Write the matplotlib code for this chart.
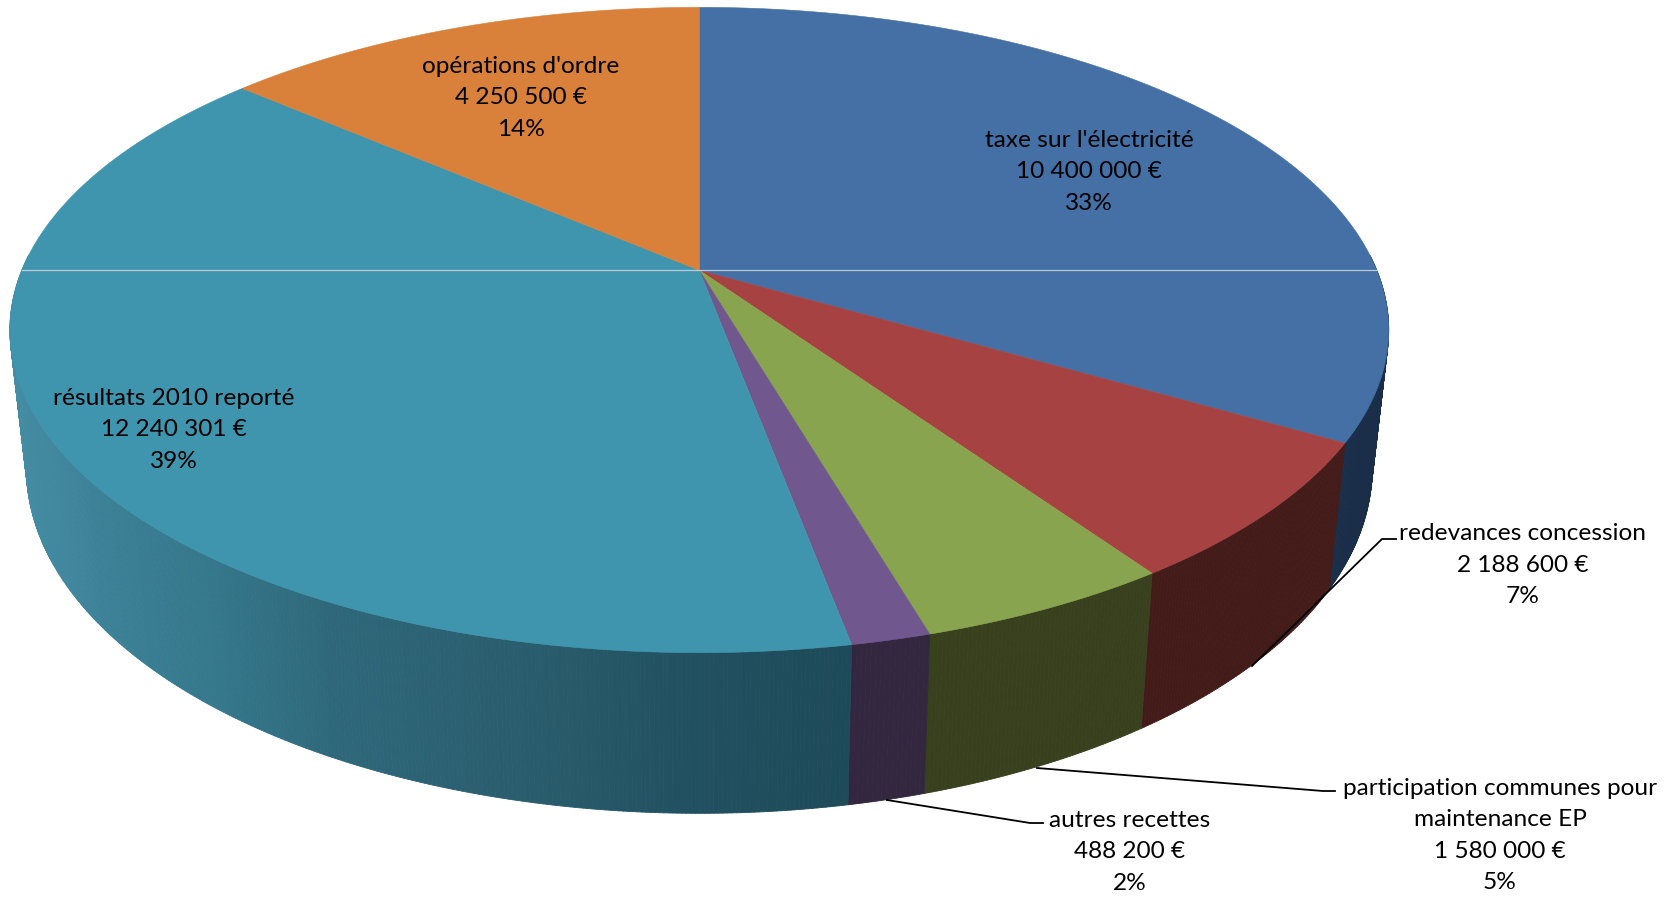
import numpy as np
import matplotlib
matplotlib.use("Agg")
import matplotlib.pyplot as plt
from matplotlib.collections import PolyCollection
from matplotlib.colors import to_rgb

names = ["taxe sur l'électricité", "redevances concession",
         "participation communes pour\nmaintenance EP", "autres recettes",
         "résultats 2010 reporté", "opérations d'ordre"]
values = [10400000, 2188600, 1580000, 488200, 12240301, 4250500]
top_colors = ["#4470a5", "#a64342", "#89a44e", "#70578e", "#4095ae", "#d9803a"]
side_colors = ["#1a2e4a", "#431b19", "#38401e", "#33263f", None, "#8a4f22"]
label_pos = [(1089, 172), (1522.5, 565), (1500, 835.5), (1129.5, 852), (174, 430), (521, 98)]

W, H = 1681, 897
CX, CY, A, K = 699.3, 270.3, 677.5, 0.185
B = 311.6
SX, SY, DY = 0.976, 1.07, 115

def top(theta):
    u, v = np.sin(theta), np.cos(theta)
    w = 1 + K * v
    return CX + A * u / w, CY - B * v / w

def bottom(theta):
    x, y = top(theta)
    return CX + SX * (x - CX), SY * y + DY

teal_x = [20, 100, 220, 330, 540, 700, 860]
teal_c = ["#458da4", "#3c8197", "#35778b", "#2f687b", "#295c6c", "#215060", "#1e4a58"]
teal_rgb = np.array([to_rgb(c) for c in teal_c])

def side_color(i, x):
    if side_colors[i] is not None:
        return to_rgb(side_colors[i])
    return tuple(np.interp(x, teal_x, teal_rgb[:, j]) for j in range(3))

fig = plt.figure(figsize=(W / 100, H / 100), dpi=100)
ax = fig.add_axes([0, 0, 1, 1])
ax.set_xlim(0, W)
ax.set_ylim(H, 0)
ax.axis("off")

total = sum(values)
edges = 2 * np.pi * np.cumsum([0] + values) / total

# side wall, drawn back to front
quads, cols = [], []
for i in range(len(values)):
    t = np.linspace(edges[i], edges[i + 1], max(3, int((edges[i + 1] - edges[i]) * 180)))
    for a, b in zip(t[:-1], t[1:]):
        m = (a + b) / 2
        if np.cos(m) > 0.05:
            continue
        xa, ya = top(a); xb, yb = top(b)
        xc, yc = bottom(b); xd, yd = bottom(a)
        quads.append([(xa, ya), (xb, yb), (xc, yc), (xd, yd)])
        cols.append((np.cos(m), side_color(i, (xa + xb + xc + xd) / 4)))
order = np.argsort([-c[0] for c in cols])
fc = [cols[j][1] for j in order]
ax.add_collection(PolyCollection([quads[j] for j in order], facecolors=fc, edgecolors=fc, linewidths=0.6))

# top face
for i in range(len(values)):
    t = np.linspace(edges[i], edges[i + 1], 200)
    x, y = top(t)
    ax.fill(np.r_[CX, x], np.r_[CY, y], color=top_colors[i], lw=0.4, zorder=3)

# thin light seam across the top face
ax.plot(*zip(top(np.pi / 2), top(3 * np.pi / 2)), color="#b9cbd6", lw=0.9, zorder=4)

# leader lines
leaders = [[(1396, 539), (1382, 539), (1252, 666)],
           [(1335, 791), (1323, 791), (1037, 768)],
           [(1043, 823), (1030, 823), (887, 800)]]
for pts in leaders:
    ax.plot(*zip(*pts), color="black", lw=1.3, zorder=5)

# labels
for name, val, pos in zip(names, values, label_pos):
    s = f"{name}\n{val:,} €\n{round(100 * val / total)}%".replace(",", " ")
    ax.text(pos[0], pos[1], s, ha="center", va="center", family="Lato",
            fontsize=17.6, linespacing=1.626, color="black", zorder=6)

fig.savefig("out.png", dpi=100, facecolor="white")
